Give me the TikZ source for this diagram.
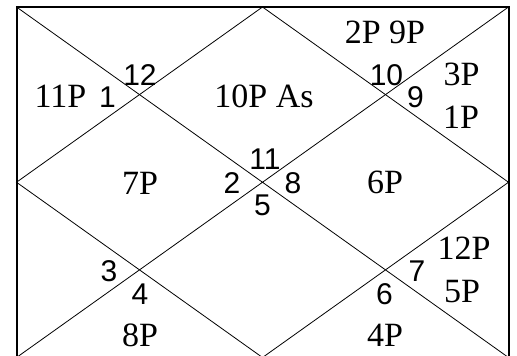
\documentclass[tikz,border=0pt]{standalone}
\usepackage{fontspec}
\setmainfont{Liberation Serif}
\setsansfont{Liberation Sans}
\begin{document}
\begin{tikzpicture}[x=1pt,y=-1pt,
  planet/.style={inner sep=0pt,anchor=base,font=\fontsize{34}{36}\selectfont},
  house/.style={inner sep=0pt,anchor=base,font=\sffamily\fontsize{30}{32}\selectfont},
  frame/.style={draw,line width=2pt},
  diag/.style={draw,line width=0.8pt}]
\useasboundingbox (0,0) rectangle (517,356);
\coordinate (TL) at (16.5,7);
\coordinate (TR) at (508.5,7);
\coordinate (BL) at (16.5,357.5);
\coordinate (BR) at (508.5,357.5);
\coordinate (TM) at (262.5,7);
\coordinate (BM) at (262.5,357.5);
\coordinate (LM) at (16.5,182.25);
\coordinate (RM) at (508.5,182.25);
\path[diag] (TL) -- (BR) (TR) -- (BL);
\path[diag] (TM) -- (RM) -- (BM) -- (LM) -- cycle;
\path[frame] (TL) rectangle (BR);
% houses
\node[house] (h1) at (107.5,107) {1};
\node[house] (h12) at (140,85) {12};
\node[house] (h10) at (386.5,85) {10};
\node[house] (h9) at (415.5,107) {9};
\node[house] (h11) at (265,169) {11};
\node[house] (h2) at (232,193) {2};
\node[house] (h8) at (293,193) {8};
\node[house] (h5) at (262.5,215) {5};
\node[house] (h3) at (109,281) {3};
\node[house] (h4) at (140,304) {4};
\node[house] (h7) at (417,281) {7};
\node[house] (h6) at (384.5,304) {6};
% planets
\node[planet] (p29) at (385,43) {2P 9P};
\node[planet] (p3) at (461.5,85) {3P};
\node[planet] (p1) at (461,128) {1P};
\node[planet] (p10) at (264,107) {10P As};
\node[planet] (p11) at (60.5,107) {11P};
\node[planet] (p7) at (140,194) {7P};
\node[planet] (p6) at (385,193) {6P};
\node[planet] (p12) at (464,259) {12P};
\node[planet] (p5) at (462,302) {5P};
\node[planet] (p4) at (385,346) {4P};
\node[planet] (p8) at (140,346) {8P};
\end{tikzpicture}
\end{document}
